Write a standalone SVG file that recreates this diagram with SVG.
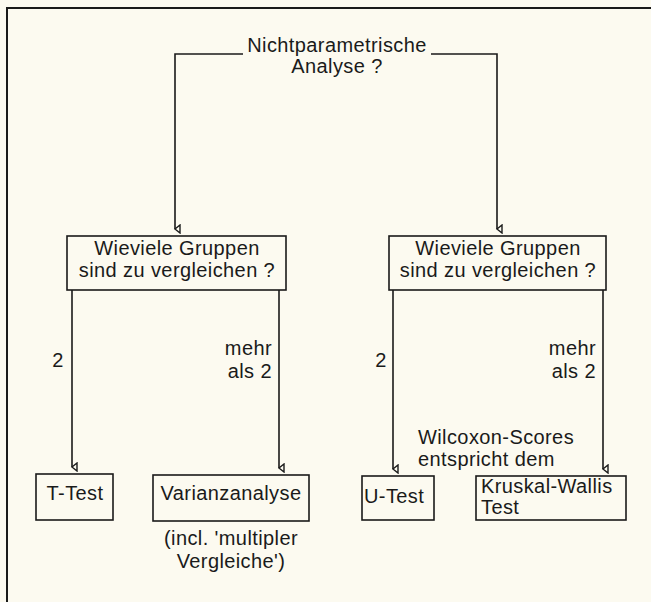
<svg xmlns="http://www.w3.org/2000/svg" width="651" height="602" viewBox="0 0 651 602">
<style>
text{font-family:"Liberation Sans",Arial,sans-serif;font-size:20px;fill:#1a1a1a;letter-spacing:0.4px}
.m{text-anchor:middle}
.e{text-anchor:end}
.box{fill:none;stroke:#1a1a1a;stroke-width:1.6}
.con{fill:none;stroke:#1a1a1a;stroke-width:1.6}
</style>
<defs>
<marker id="arr" markerWidth="10" markerHeight="8" refX="5" refY="6" orient="auto-start-reverse" markerUnits="userSpaceOnUse" viewBox="0 0 10 8">
<path d="M1,1 L9,1 L5,6 Z" fill="#fcfaf0" stroke="#1a1a1a" stroke-width="1.4"/>
</marker>
</defs>
<rect width="651" height="602" fill="#fcfaf0"/>
<path d="M7,602 V8 H651" fill="none" stroke="#1a1a1a" stroke-width="2"/>
<g id="title">
<text class="m" x="337" y="52">Nichtparametrische</text>
<text class="m" x="337" y="73">Analyse ?</text>
</g>
<g id="connectors">
<path class="con" d="M243,54 H175 V229" marker-end="url(#arr)"/>
<path class="con" d="M431,54 H497 V229" marker-end="url(#arr)"/>
<path class="con" d="M72,290 V467" marker-end="url(#arr)"/>
<path class="con" d="M279,290 V468" marker-end="url(#arr)"/>
<path class="con" d="M393,290 V469" marker-end="url(#arr)"/>
<path class="con" d="M603,290 V469" marker-end="url(#arr)"/>
<text class="m" x="58" y="367">2</text>
<text class="e" x="272" y="355">mehr</text>
<text class="e" x="272" y="378">als 2</text>
<text class="m" x="381" y="367">2</text>
<text class="e" x="596" y="355">mehr</text>
<text class="e" x="596" y="378">als 2</text>
</g>
<g id="q-left">
<rect class="box" x="67" y="236" width="219" height="54"/>
<text class="m" x="177" y="255">Wieviele Gruppen</text>
<text class="m" x="177" y="277">sind zu vergleichen ?</text>
</g>
<g id="q-right">
<rect class="box" x="389" y="236" width="217" height="54"/>
<text class="m" x="498" y="255">Wieviele Gruppen</text>
<text class="m" x="498" y="277">sind zu vergleichen ?</text>
</g>
<g id="ttest">
<rect class="box" x="36" y="474" width="77" height="46"/>
<text class="m" x="75" y="500">T-Test</text>
</g>
<g id="varianz">
<rect class="box" x="153" y="475" width="156" height="46"/>
<text class="m" x="231" y="500">Varianzanalyse</text>
<text class="m" x="231" y="545">(incl. 'multipler</text>
<text class="m" x="231" y="568">Vergleiche')</text>
</g>
<g id="utest">
<rect class="box" x="362" y="476" width="72" height="44"/>
<text x="364" y="503">U-Test</text>
</g>
<g id="wilcoxon">
<text x="418" y="444">Wilcoxon-Scores</text>
<text x="418" y="466">entspricht dem</text>
</g>
<g id="kruskal">
<rect class="box" x="476" y="476" width="150" height="44"/>
<text x="481" y="493">Kruskal-Wallis</text>
<text x="481" y="514">Test</text>
</g>
</svg>
